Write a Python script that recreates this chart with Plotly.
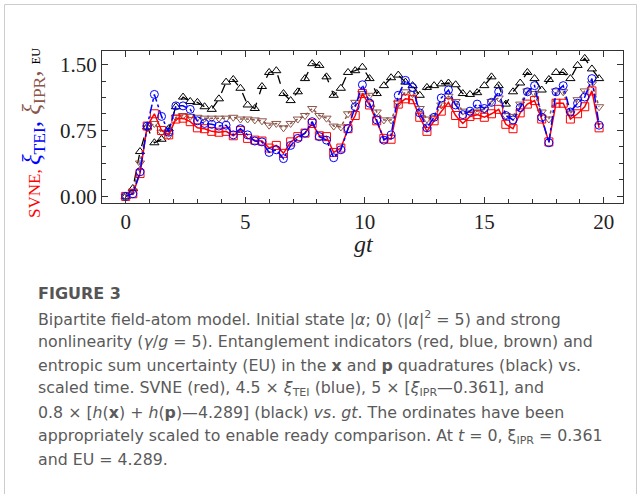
import plotly.graph_objects as go

# ---------------- data ----------------
gt = [0.0, 0.3, 0.6, 0.9, 1.2, 1.5, 1.8, 2.1, 2.4, 2.7,
      3.0, 3.3, 3.6, 3.9, 4.2, 4.5, 4.8, 5.1, 5.4, 5.7,
      6.0, 6.3, 6.6, 6.9, 7.2, 7.5, 7.8, 8.1, 8.4, 8.7,
      9.0, 9.3, 9.6, 9.9, 10.2, 10.5, 10.8, 11.1, 11.4, 11.7,
      12.0, 12.3, 12.6, 12.9, 13.2, 13.5, 13.8, 14.1, 14.4, 14.7,
      15.0, 15.3, 15.6, 15.9, 16.2, 16.5, 16.8, 17.1, 17.4, 17.7,
      18.0, 18.3, 18.6, 18.9, 19.2, 19.5, 19.8]

svne = [0.00, 0.03, 0.26, 0.80, 0.94, 0.75, 0.70, 0.88, 0.89, 0.85,
        0.78, 0.77, 0.74, 0.73, 0.74, 0.69, 0.75, 0.66, 0.64, 0.63,
        0.55, 0.58, 0.49, 0.62, 0.68, 0.72, 0.83, 0.69, 0.68, 0.50,
        0.55, 0.77, 0.92, 1.17, 1.04, 0.86, 0.66, 0.65, 1.05, 1.11,
        1.10, 0.90, 0.74, 0.86, 0.97, 1.07, 0.92, 0.83, 0.91, 0.93,
        0.90, 0.94, 0.99, 0.82, 0.77, 0.95, 1.05, 1.09, 0.88, 0.62,
        1.06, 1.06, 0.88, 0.94, 1.02, 1.20, 0.78]

xi_tei = [0.00, 0.03, 0.28, 0.80, 1.16, 0.91, 0.73, 1.03, 1.03, 0.99,
          0.86, 0.83, 0.82, 0.80, 0.81, 0.70, 0.77, 0.70, 0.63, 0.62,
          0.50, 0.53, 0.43, 0.58, 0.66, 0.72, 0.85, 0.68, 0.64, 0.44,
          0.53, 0.77, 1.02, 1.27, 1.06, 0.87, 0.64, 0.70, 1.15, 1.32,
          1.24, 0.95, 0.78, 0.90, 1.12, 1.21, 1.04, 0.93, 0.97, 1.05,
          1.00, 1.07, 1.19, 0.92, 0.87, 1.01, 1.19, 1.26, 0.90, 0.61,
          1.19, 1.26, 0.96, 1.06, 1.13, 1.34, 0.81]

xi_ipr = [0.00, 0.06, 0.38, 0.78, 0.83, 0.73, 0.69, 0.90, 0.92, 0.91,
          0.90, 0.89, 0.89, 0.89, 0.89, 0.90, 0.88, 0.88, 0.87, 0.86,
          0.81, 0.83, 0.78, 0.83, 0.88, 0.92, 1.00, 0.92, 0.89, 0.80,
          0.79, 0.94, 1.07, 1.17, 1.15, 0.96, 0.87, 0.87, 1.06, 1.19,
          1.17, 1.00, 0.88, 0.90, 1.04, 1.14, 1.08, 0.97, 0.95, 0.97,
          0.99, 1.08, 1.12, 0.92, 0.91, 1.05, 1.20, 1.17, 0.96, 0.88,
          1.20, 1.19, 0.94, 1.10, 1.20, 1.28, 1.02]

eu = [0.00, 0.09, 0.51, 0.79, 0.61, 0.65, 0.77, 1.02, 1.13, 1.08,
      1.07, 1.02, 0.99, 1.11, 1.30, 1.33, 1.23, 1.04, 1.00, 1.25,
      1.41, 1.43, 1.17, 1.09, 1.19, 1.34, 1.51, 1.49, 1.36, 1.15,
      1.23, 1.41, 1.43, 1.47, 1.34, 1.17, 1.26, 1.35, 1.38, 1.30,
      1.26, 1.15, 1.24, 1.26, 1.28, 1.29, 1.27, 1.17, 1.16, 1.18,
      1.26, 1.36, 1.26, 1.05, 1.19, 1.29, 1.41, 1.34, 1.21, 1.33,
      1.41, 1.41, 1.34, 1.49, 1.57, 1.45, 1.34]

x_ticks = [0, 5, 10, 15, 20]
y_ticks = [0.0, 0.75, 1.5]
y_tick_labels = ["0.00", "0.75", "1.50"]

caption_head = "FIGURE 3"
caption_lines = [
    "Bipartite field-atom model. Initial state |<i>α</i>; 0⟩ (|<i>α</i>|<sup>2</sup> = 5) and strong",
    "nonlinearity (<i>γ</i>/<i>g</i> = 5). Entanglement indicators (red, blue, brown) and",
    "entropic sum uncertainty (EU) in the <b>x</b> and <b>p</b> quadratures (black) vs.",
    "scaled time. SVNE (red), 4.5 × <i>ξ</i><sub>TEI</sub> (blue), 5 × [<i>ξ</i><sub>IPR</sub>—0.361], and",
    "0.8 × [<i>h</i>(<b>x</b>) + <i>h</i>(<b>p</b>)—4.289] (black) <i>vs</i>. <i>gt</i>. The ordinates have been",
    "appropriately scaled to enable ready comparison. At <i>t</i> = 0, ξ<sub>IPR</sub> = 0.361",
    "and EU = 4.289.",
]

# ---------------- layout geometry ----------------
W_FIG, H_FIG = 641, 494
L, R, T, B = 102, 18, 51, 291
PW = W_FIG - L - R
PH = H_FIG - T - B


def px_x(px):
    return (px - L) / PW


def px_y(py):
    return (T + PH - py) / PH


fig = go.Figure()

fig.add_trace(go.Scatter(
    x=gt, y=eu, mode="lines+markers", name="EU",
    line=dict(color="black", width=1.3, dash="dash"),
    marker=dict(symbol="triangle-up-open", size=8, color="black", line=dict(width=1))))
fig.add_trace(go.Scatter(
    x=gt, y=xi_ipr, mode="lines+markers", name="xi_IPR",
    line=dict(color="#8c564b", width=1.5, dash="dot"),
    marker=dict(symbol="triangle-down-open", size=8, color="#8c564b", line=dict(width=1))))
fig.add_trace(go.Scatter(
    x=gt, y=svne, mode="lines+markers", name="SVNE",
    line=dict(color="red", width=1.5),
    marker=dict(symbol="square-open", size=8, color="red", line=dict(width=1))))
fig.add_trace(go.Scatter(
    x=gt, y=xi_tei, mode="lines+markers", name="xi_TEI",
    line=dict(color="blue", width=1.5, dash="dashdot"),
    marker=dict(symbol="circle-open", size=8, color="blue", line=dict(width=1))))

axis_common = dict(
    showgrid=False, zeroline=False, showline=True, linecolor="#333333", linewidth=1.3,
    mirror="allticks", ticks="inside", ticklen=6, tickwidth=1, tickcolor="#333333",
    tickfont=dict(family="Liberation Serif", size=21, color="#222222"),
)

fig.update_xaxes(
    range=[-0.99, 20.8], tickvals=x_ticks,
    minor=dict(dtick=1, ticks="inside", ticklen=4, tickcolor="#333333"),
    **axis_common)
fig.update_yaxes(
    range=[-0.075, 1.654], tickvals=y_ticks, ticktext=y_tick_labels,
    minor=dict(dtick=0.1875, tick0=0, ticks="inside", ticklen=4, tickcolor="#333333"),
    **axis_common)

annotations = []
# x axis title
annotations.append(dict(
    xref="paper", yref="paper", x=px_x(364), y=px_y(244),
    xanchor="center", yanchor="middle", showarrow=False,
    font=dict(family="Liberation Serif", size=24, color="#222222"),
    text="<i>gt</i>"))
# y axis multi-coloured title
annotations.append(dict(
    xref="paper", yref="paper", x=px_x(33), y=px_y(133),
    xanchor="center", yanchor="middle", textangle=-90, showarrow=False,
    font=dict(family="Liberation Serif", size=25, color="black"),
    text=("<span style='color:red;font-size:17px'>SVNE, </span>"
          "<span style='color:blue'><i>ξ</i><sub>TEI</sub>, </span>"
          "<span style='color:#8c564b'><i>ξ</i><sub>IPR</sub>, </span>"
          "<span style='font-size:12px'>EU</span>")))

annotations.append(dict(
    xref="paper", yref="paper", x=px_x(36), y=px_y(293),
    xanchor="left", yanchor="middle", showarrow=False,
    font=dict(family="DejaVu Sans", size=16, color="#555555"),
    text="<b>" + caption_head + "</b>"))

for k, line in enumerate(caption_lines):
    annotations.append(dict(
        xref="paper", yref="paper", x=px_x(36), y=px_y(318 + 23.6 * k),
        xanchor="left", yanchor="middle", showarrow=False,
        font=dict(family="DejaVu Sans", size=15.8, color="#5a5a5a"),
        text=line))

fig.update_layout(
    width=W_FIG, height=H_FIG,
    margin=dict(l=L, r=R, t=T, b=B),
    paper_bgcolor="white", plot_bgcolor="white",
    showlegend=False,
    annotations=annotations,
    shapes=[dict(type="rect", xref="paper", yref="paper",
                 x0=px_x(4.5), x1=px_x(636.5), y0=px_y(520), y1=px_y(4.5),
                 line=dict(color="#cccccc", width=1), layer="below")],
)

fig.write_html("out.html",
               config={"displayModeBar": False},
               post_script="document.body.style.margin='0';document.body.style.padding='0';")
